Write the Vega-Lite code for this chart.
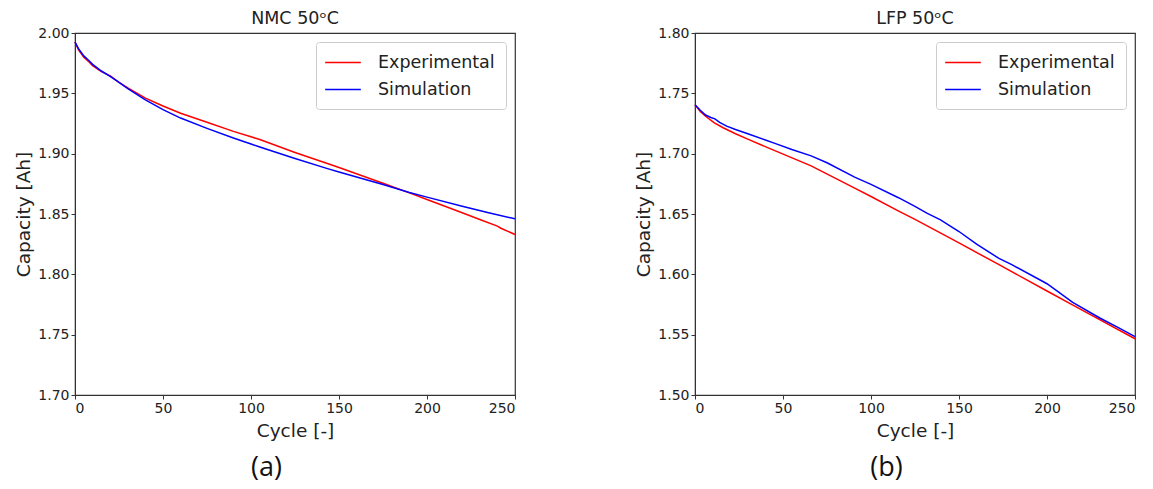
{
  "$schema": "https://vega.github.io/schema/vega-lite/v6.json",
  "background": "white",
  "padding": {"left": 14, "top": 8, "right": 5, "bottom": 5},
  "datasets": {
    "nmc": [
      {"cycle": 0, "capacity": 1.9925, "series": "Experimental"},
      {"cycle": 2, "capacity": 1.986, "series": "Experimental"},
      {"cycle": 5, "capacity": 1.980, "series": "Experimental"},
      {"cycle": 8, "capacity": 1.976, "series": "Experimental"},
      {"cycle": 10, "capacity": 1.973, "series": "Experimental"},
      {"cycle": 15, "capacity": 1.968, "series": "Experimental"},
      {"cycle": 20, "capacity": 1.9645, "series": "Experimental"},
      {"cycle": 25, "capacity": 1.959, "series": "Experimental"},
      {"cycle": 30, "capacity": 1.9545, "series": "Experimental"},
      {"cycle": 40, "capacity": 1.946, "series": "Experimental"},
      {"cycle": 50, "capacity": 1.9395, "series": "Experimental"},
      {"cycle": 60, "capacity": 1.9335, "series": "Experimental"},
      {"cycle": 75, "capacity": 1.926, "series": "Experimental"},
      {"cycle": 90, "capacity": 1.9185, "series": "Experimental"},
      {"cycle": 100, "capacity": 1.914, "series": "Experimental"},
      {"cycle": 105, "capacity": 1.9117, "series": "Experimental"},
      {"cycle": 125, "capacity": 1.901, "series": "Experimental"},
      {"cycle": 143, "capacity": 1.892, "series": "Experimental"},
      {"cycle": 150, "capacity": 1.8885, "series": "Experimental"},
      {"cycle": 175, "capacity": 1.8755, "series": "Experimental"},
      {"cycle": 190, "capacity": 1.8675, "series": "Experimental"},
      {"cycle": 200, "capacity": 1.862, "series": "Experimental"},
      {"cycle": 220, "capacity": 1.851, "series": "Experimental"},
      {"cycle": 230, "capacity": 1.8455, "series": "Experimental"},
      {"cycle": 240, "capacity": 1.84, "series": "Experimental"},
      {"cycle": 242, "capacity": 1.8382, "series": "Experimental"},
      {"cycle": 250, "capacity": 1.833, "series": "Experimental"},
      {"cycle": 0, "capacity": 1.9925, "series": "Simulation"},
      {"cycle": 2, "capacity": 1.987, "series": "Simulation"},
      {"cycle": 5, "capacity": 1.981, "series": "Simulation"},
      {"cycle": 8, "capacity": 1.977, "series": "Simulation"},
      {"cycle": 10, "capacity": 1.974, "series": "Simulation"},
      {"cycle": 15, "capacity": 1.9685, "series": "Simulation"},
      {"cycle": 20, "capacity": 1.964, "series": "Simulation"},
      {"cycle": 25, "capacity": 1.959, "series": "Simulation"},
      {"cycle": 30, "capacity": 1.954, "series": "Simulation"},
      {"cycle": 40, "capacity": 1.9445, "series": "Simulation"},
      {"cycle": 50, "capacity": 1.9365, "series": "Simulation"},
      {"cycle": 60, "capacity": 1.9295, "series": "Simulation"},
      {"cycle": 75, "capacity": 1.921, "series": "Simulation"},
      {"cycle": 90, "capacity": 1.913, "series": "Simulation"},
      {"cycle": 100, "capacity": 1.908, "series": "Simulation"},
      {"cycle": 105, "capacity": 1.9055, "series": "Simulation"},
      {"cycle": 125, "capacity": 1.896, "series": "Simulation"},
      {"cycle": 143, "capacity": 1.8878, "series": "Simulation"},
      {"cycle": 150, "capacity": 1.8848, "series": "Simulation"},
      {"cycle": 175, "capacity": 1.8745, "series": "Simulation"},
      {"cycle": 190, "capacity": 1.8678, "series": "Simulation"},
      {"cycle": 200, "capacity": 1.864, "series": "Simulation"},
      {"cycle": 220, "capacity": 1.8565, "series": "Simulation"},
      {"cycle": 235, "capacity": 1.851, "series": "Simulation"},
      {"cycle": 250, "capacity": 1.846, "series": "Simulation"}
    ],
    "lfp": [
      {"cycle": 0, "capacity": 1.7405, "series": "Experimental"},
      {"cycle": 3, "capacity": 1.735, "series": "Experimental"},
      {"cycle": 6, "capacity": 1.731, "series": "Experimental"},
      {"cycle": 11, "capacity": 1.7255, "series": "Experimental"},
      {"cycle": 16, "capacity": 1.7215, "series": "Experimental"},
      {"cycle": 23, "capacity": 1.7165, "series": "Experimental"},
      {"cycle": 30, "capacity": 1.712, "series": "Experimental"},
      {"cycle": 45, "capacity": 1.7027, "series": "Experimental"},
      {"cycle": 66, "capacity": 1.6899, "series": "Experimental"},
      {"cycle": 91, "capacity": 1.6712, "series": "Experimental"},
      {"cycle": 100, "capacity": 1.6645, "series": "Experimental"},
      {"cycle": 116, "capacity": 1.6522, "series": "Experimental"},
      {"cycle": 125, "capacity": 1.6455, "series": "Experimental"},
      {"cycle": 150, "capacity": 1.626, "series": "Experimental"},
      {"cycle": 173, "capacity": 1.6078, "series": "Experimental"},
      {"cycle": 200, "capacity": 1.5862, "series": "Experimental"},
      {"cycle": 215, "capacity": 1.5742, "series": "Experimental"},
      {"cycle": 250, "capacity": 1.5466, "series": "Experimental"},
      {"cycle": 0, "capacity": 1.7405, "series": "Simulation"},
      {"cycle": 3, "capacity": 1.736, "series": "Simulation"},
      {"cycle": 6, "capacity": 1.732, "series": "Simulation"},
      {"cycle": 9, "capacity": 1.730, "series": "Simulation"},
      {"cycle": 11.3, "capacity": 1.7288, "series": "Simulation"},
      {"cycle": 14, "capacity": 1.726, "series": "Simulation"},
      {"cycle": 18, "capacity": 1.7228, "series": "Simulation"},
      {"cycle": 23, "capacity": 1.72, "series": "Simulation"},
      {"cycle": 30, "capacity": 1.7165, "series": "Simulation"},
      {"cycle": 40, "capacity": 1.7113, "series": "Simulation"},
      {"cycle": 45.4, "capacity": 1.7085, "series": "Simulation"},
      {"cycle": 55, "capacity": 1.7035, "series": "Simulation"},
      {"cycle": 66, "capacity": 1.6982, "series": "Simulation"},
      {"cycle": 75, "capacity": 1.6925, "series": "Simulation"},
      {"cycle": 90.7, "capacity": 1.6805, "series": "Simulation"},
      {"cycle": 100, "capacity": 1.6745, "series": "Simulation"},
      {"cycle": 115.6, "capacity": 1.6635, "series": "Simulation"},
      {"cycle": 124.7, "capacity": 1.6565, "series": "Simulation"},
      {"cycle": 132, "capacity": 1.6505, "series": "Simulation"},
      {"cycle": 139.5, "capacity": 1.6452, "series": "Simulation"},
      {"cycle": 150, "capacity": 1.6355, "series": "Simulation"},
      {"cycle": 160, "capacity": 1.625, "series": "Simulation"},
      {"cycle": 172.7, "capacity": 1.6132, "series": "Simulation"},
      {"cycle": 180, "capacity": 1.608, "series": "Simulation"},
      {"cycle": 200, "capacity": 1.5922, "series": "Simulation"},
      {"cycle": 214.6, "capacity": 1.5768, "series": "Simulation"},
      {"cycle": 230, "capacity": 1.5638, "series": "Simulation"},
      {"cycle": 240, "capacity": 1.5562, "series": "Simulation"},
      {"cycle": 250, "capacity": 1.5484, "series": "Simulation"}
    ]
  },
  "config": {
    "font": "DejaVu Sans",
    "view": {"stroke": "#333333", "strokeWidth": 1.2},
    "axis": {
      "grid": false,
      "domainColor": "#333333",
      "tickColor": "#333333",
      "tickSize": 4,
      "labelFontSize": 14,
      "labelColor": "#222222",
      "labelPadding": 2,
      "labelOverlap": false,
      "titleFontSize": 18.5,
      "titleFontWeight": "normal",
      "titleColor": "#222222"
    },
    "legend": {
      "title": null,
      "labelFontSize": 17.5,
      "labelColor": "#222222",
      "symbolType": "M-2.1,0H2.1",
      "symbolSize": 289,
      "symbolStrokeWidth": 1.5,
      "symbolOffset": 6.5,
      "labelOffset": 25.5,
      "rowPadding": 9,
      "padding": 11,
      "strokeColor": "#cccccc",
      "fillColor": "white",
      "cornerRadius": 3
    },
    "title": {"fontSize": 17.5, "fontWeight": "normal", "color": "#222222", "offset": -1},
    "concat": {"spacing": 115}
  },
  "hconcat": [
    {
      "title": {"text": "(a)", "orient": "bottom", "anchor": "middle", "fontSize": 27, "font": "Open Sans", "offset": 15, "color": "#111111"},
      "resolve": {"scale": {"color": "independent"}, "legend": {"color": "independent"}},
      "vconcat": [
        {
          "title": {"text": "NMC 50ᵒC", "anchor": "middle", "frame": "group"},
          "width": 440,
          "height": 362,
          "data": {"name": "nmc"},
          "mark": {"type": "line", "strokeWidth": 1.5},
          "encoding": {
            "x": {"field": "cycle", "type": "quantitative", "title": "Cycle [-]",
              "scale": {"domain": [0, 250], "nice": false},
              "axis": {"values": [0, 50, 100, 150, 200, 250], "titlePadding": 6}},
            "y": {"field": "capacity", "type": "quantitative", "title": "Capacity [Ah]",
              "scale": {"domain": [1.7, 2.0], "nice": false, "zero": false},
              "axis": {"values": [1.7, 1.75, 1.8, 1.85, 1.9, 1.95, 2.0], "format": ".2f", "titlePadding": 4}},
            "color": {"field": "series", "type": "nominal",
              "scale": {"domain": ["Experimental", "Simulation"], "range": ["#ff0000", "#0000ff"]},
              "legend": {"orient": "top-right", "offset": 9}}
          }
        }
      ]
    },
    {
      "title": {"text": "(b)", "orient": "bottom", "anchor": "middle", "fontSize": 27, "font": "Open Sans", "offset": 15, "color": "#111111"},
      "resolve": {"scale": {"color": "independent"}, "legend": {"color": "independent"}},
      "vconcat": [
        {
          "title": {"text": "LFP 50ᵒC", "anchor": "middle", "frame": "group"},
          "width": 440,
          "height": 362,
          "data": {"name": "lfp"},
          "mark": {"type": "line", "strokeWidth": 1.5},
          "encoding": {
            "x": {"field": "cycle", "type": "quantitative", "title": "Cycle [-]",
              "scale": {"domain": [0, 250], "nice": false},
              "axis": {"values": [0, 50, 100, 150, 200, 250], "titlePadding": 6}},
            "y": {"field": "capacity", "type": "quantitative", "title": "Capacity [Ah]",
              "scale": {"domain": [1.5, 1.8], "nice": false, "zero": false},
              "axis": {"values": [1.5, 1.55, 1.6, 1.65, 1.7, 1.75, 1.8], "format": ".2f", "titlePadding": 4}},
            "color": {"field": "series", "type": "nominal",
              "scale": {"domain": ["Experimental", "Simulation"], "range": ["#ff0000", "#0000ff"]},
              "legend": {"orient": "top-right", "offset": 9}}
          }
        }
      ]
    }
  ],
  "resolve": {"scale": {"color": "independent"}, "legend": {"color": "independent"}}
}
